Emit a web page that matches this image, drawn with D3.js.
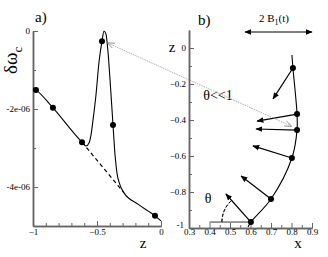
<!DOCTYPE html>
<html>
<head>
<meta charset="utf-8">
<script src="https://cdn.jsdelivr.net/npm/d3@7"></script>
<style>
body { margin: 0; background: #fff; }
text { font-family: "Liberation Serif", "Times New Roman", serif; fill: #000; }
.tick text { font-size: 9px; }
</style>
</head>
<body>
<script>
// panel a) : delta omega_c against z (values in units of 1e-6)
var aCurveZ  = [-1.0, -0.977, -0.844, -0.617, -0.586, -0.5625, -0.547, -0.531, -0.508, -0.484, -0.461, -0.445, -0.430, -0.414, -0.398, -0.375, -0.359, -0.344, -0.320, -0.289, -0.18, -0.047, 0.0];
var aCurveDw = [-1.46, -1.51, -1.97, -2.85, -2.95, -2.87, -2.67, -2.28, -1.64, -0.79, -0.26, 0, -0.08, -0.54, -1.26, -2.41, -3.18, -3.64, -3.95, -4.15, -4.44, -4.74, -4.87];
var aDotZ  = [-0.977, -0.844, -0.617, -0.461, -0.375, -0.047];
var aDotDw = [-1.51, -1.97, -2.85, -0.26, -2.41, -4.74];
var aDashZ  = [-0.617, -0.289];
var aDashDw = [-2.85, -4.15];
var aXTicks = [-1, -0.5, 0];
var aYTicks = [0, -2, -4];

// panel b) : filament shape z(x) with the B directions
var bCurveX = [0.802, 0.807, 0.827, 0.827, 0.802, 0.700, 0.602, 0.588];
var bCurveZ = [-0.039, -0.111, -0.367, -0.456, -0.611, -0.839, -0.967, -0.994];
var bDotX = [0.807, 0.827, 0.827, 0.802, 0.700, 0.602];
var bDotZ = [-0.111, -0.367, -0.456, -0.611, -0.839, -0.967];
var bTipX = [0.710, 0.632, 0.627, 0.612, 0.554, 0.480];
var bTipZ = [-0.283, -0.406, -0.450, -0.544, -0.711, -0.811];
var bXTicks = [0.3, 0.4, 0.5, 0.6, 0.7, 0.8, 0.9];
var bYTicks = [0, -0.2, -0.4, -0.6, -0.8, -1];

var width = 328, height = 257;

var svg = d3.select("body").append("svg")
    .attr("width", width)
    .attr("height", height);

svg.append("rect").attr("width", width).attr("height", height).attr("fill", "#fff");

var defs = svg.append("defs");
defs.append("marker")
    .attr("id", "head")
    .attr("viewBox", "0 0 10 10")
    .attr("refX", 9).attr("refY", 5)
    .attr("markerWidth", 7).attr("markerHeight", 7)
    .attr("markerUnits", "userSpaceOnUse")
    .attr("orient", "auto-start-reverse")
  .append("path")
    .attr("d", "M0,1 L10,5 L0,9 z")
    .attr("fill", "#000");
defs.append("marker")
    .attr("id", "openhead")
    .attr("viewBox", "0 0 10 10")
    .attr("refX", 9).attr("refY", 5)
    .attr("markerWidth", 7).attr("markerHeight", 7)
    .attr("markerUnits", "userSpaceOnUse")
    .attr("orient", "auto-start-reverse")
  .append("path")
    .attr("d", "M0,1 L10,5 L0,9")
    .attr("fill", "none")
    .attr("stroke", "#888")
    .attr("stroke-width", 1.2);

function styleAxis(g) {
    g.attr("font-family", null);
    g.select(".domain").attr("stroke", "#666").attr("stroke-width", 1.5);
    g.selectAll(".tick line").attr("stroke", "#666").attr("stroke-width", 1);
    g.selectAll(".tick text").attr("fill", "#000");
}

// ---------- panel a ----------
var xa = d3.scaleLinear().domain([-1, 0]).range([33, 161]);
var ya = d3.scaleLinear().domain([-5, 0]).range([226, 31]);

var ga = svg.append("g");

ga.append("g")
    .attr("transform", "translate(0,226)")
    .call(d3.axisBottom(xa).tickValues(d3.range(-0.9, -0.05, 0.1)).tickSize(-3).tickSizeOuter(0).tickFormat(""))
    .call(styleAxis);
ga.append("g")
    .attr("transform", "translate(0,226)")
    .call(d3.axisBottom(xa).tickValues(aXTicks).tickSize(-5).tickSizeOuter(0).tickPadding(3).tickFormat(d3.format("")))
    .call(styleAxis);
ga.append("g")
    .attr("transform", "translate(33,0)")
    .call(d3.axisLeft(ya).tickValues([-1, -3]).tickSize(-3).tickSizeOuter(0).tickFormat(""))
    .call(styleAxis);
ga.append("g")
    .attr("transform", "translate(33,0)")
    .call(d3.axisLeft(ya).tickValues(aYTicks).tickSize(-5).tickSizeOuter(0).tickPadding(3)
        .tickFormat(function(d){ return d === 0 ? "0" : d + "e-06"; }))
    .call(styleAxis);

var lineA = d3.line()
    .x(function(d){ return xa(d[0]); })
    .y(function(d){ return ya(d[1]); })
    .curve(d3.curveMonotoneX);

ga.append("path")
    .datum(d3.zip(aCurveZ, aCurveDw))
    .attr("d", lineA)
    .attr("fill", "none")
    .attr("stroke", "#000")
    .attr("stroke-width", 1.1);

ga.append("path")
    .datum(d3.zip(aDashZ, aDashDw))
    .attr("d", d3.line().x(function(d){ return xa(d[0]); }).y(function(d){ return ya(d[1]); }))
    .attr("fill", "none")
    .attr("stroke", "#000")
    .attr("stroke-width", 1.2)
    .attr("stroke-dasharray", "4,3");

ga.selectAll("circle")
    .data(d3.zip(aDotZ, aDotDw))
    .enter()
    .append("circle")
    .attr("cx", function(d){ return xa(d[0]); })
    .attr("cy", function(d){ return ya(d[1]); })
    .attr("r", 3);

ga.append("text").attr("x", 35).attr("y", 22).style("font-size", "15px").text("a)");
ga.append("text").attr("x", 143).attr("y", 248).attr("text-anchor", "middle").style("font-size", "15px").text("z");

var lab = ga.append("text")
    .attr("transform", "translate(17,74) rotate(-90)")
    .style("font-size", "19px");
lab.append("tspan").text("δω");
lab.append("tspan").attr("dy", 5).style("font-size", "13px").text("c");

// ---------- panel b ----------
var xb = d3.scaleLinear().domain([0.3, 0.9]).range([189, 312]);
var yb = d3.scaleLinear().domain([-1, 0.1]).range([228, 30]);

var gb = svg.append("g");

gb.append("g")
    .attr("transform", "translate(0,228)")
    .call(d3.axisBottom(xb).tickValues(d3.range(0.35, 0.9, 0.1)).tickSize(-3).tickSizeOuter(0).tickFormat(""))
    .call(styleAxis);
gb.append("g")
    .attr("transform", "translate(0,228)")
    .call(d3.axisBottom(xb).tickValues(bXTicks).tickSize(-5).tickSizeOuter(0).tickPadding(1).tickFormat(d3.format(".1f")))
    .call(styleAxis);
gb.append("g")
    .attr("transform", "translate(189,0)")
    .call(d3.axisLeft(yb).tickValues([-0.1, -0.3, -0.5, -0.7, -0.9]).tickSize(-3).tickSizeOuter(0).tickFormat(""))
    .call(styleAxis);
gb.append("g")
    .attr("transform", "translate(189,0)")
    .call(d3.axisLeft(yb).tickValues(bYTicks).tickSize(-5).tickSizeOuter(0).tickPadding(3)
        .tickFormat(function(d){ return d === 0 ? "0" : d === -1 ? "-1" : d3.format(".1f")(d); }))
    .call(styleAxis)
    .call(function(g){ g.selectAll(".tick text").filter(function(d){ return d === -1; }).attr("dy", "-0.05em").attr("x", -5); });

// horizontal reference for theta
gb.append("line")
    .attr("x1", xb(0.4)).attr("x2", xb(bDotX[5]))
    .attr("y1", yb(bDotZ[5])).attr("y2", yb(bDotZ[5]))
    .attr("stroke", "#000").attr("stroke-width", 0.8);

// dashed theta arc
var cx0 = xb(bDotX[5]), cy0 = yb(bDotZ[5]);
var ang = Math.atan2(yb(bTipZ[5]) - cy0, xb(bTipX[5]) - cx0);
var arc = d3.arc()
    .innerRadius(29).outerRadius(29)
    .startAngle(-Math.PI / 2)
    .endAngle(ang + Math.PI / 2);
gb.append("path")
    .attr("transform", "translate(" + cx0 + "," + cy0 + ")")
    .attr("d", arc())
    .attr("fill", "none")
    .attr("stroke", "#000")
    .attr("stroke-width", 0.9)
    .attr("stroke-dasharray", "3,2");

var lineB = d3.line()
    .x(function(d){ return xb(d[0]); })
    .y(function(d){ return yb(d[1]); })
    .curve(d3.curveCatmullRom.alpha(0.5));

gb.append("path")
    .datum(d3.zip(bCurveX, bCurveZ))
    .attr("d", lineB)
    .attr("fill", "none")
    .attr("stroke", "#000")
    .attr("stroke-width", 1.1);

gb.selectAll("line.vec")
    .data(d3.range(bDotX.length))
    .enter()
    .append("line")
    .attr("class", "vec")
    .attr("x1", function(i){ return xb(bDotX[i]); })
    .attr("y1", function(i){ return yb(bDotZ[i]); })
    .attr("x2", function(i){ return xb(bTipX[i]); })
    .attr("y2", function(i){ return yb(bTipZ[i]); })
    .attr("stroke", "#000")
    .attr("stroke-width", 1.2)
    .attr("marker-end", "url(#head)");

gb.selectAll("circle")
    .data(d3.zip(bDotX, bDotZ))
    .enter()
    .append("circle")
    .attr("cx", function(d){ return xb(d[0]); })
    .attr("cy", function(d){ return yb(d[1]); })
    .attr("r", 3);

gb.append("text").attr("x", 198).attr("y", 25).style("font-size", "15px").text("b)");
gb.append("text").attr("x", 172).attr("y", 52).attr("text-anchor", "middle").style("font-size", "15px").text("z");
gb.append("text").attr("x", 298).attr("y", 248).attr("text-anchor", "middle").style("font-size", "15px").text("x");
gb.append("text").attr("x", 208).attr("y", 203).attr("text-anchor", "middle").style("font-size", "14px").text("θ");
gb.append("text").attr("x", 218).attr("y", 100).attr("text-anchor", "middle").style("font-size", "14px").text("θ<<1");

var bl = gb.append("text").attr("x", 274).attr("y", 22).attr("text-anchor", "middle").style("font-size", "11px");
bl.append("tspan").text("2 B");
bl.append("tspan").attr("dy", 3).style("font-size", "8px").text("1");
bl.append("tspan").attr("dy", -3).text("(t)");

gb.append("line")
    .attr("x1", 245).attr("x2", 312)
    .attr("y1", 32).attr("y2", 32)
    .attr("stroke", "#000").attr("stroke-width", 1.2)
    .attr("marker-start", "url(#head)")
    .attr("marker-end", "url(#head)");

// gray connector between the peak of a) and the flat spot of b)
svg.append("line")
    .attr("x1", xa(aDotZ[3]) + 6).attr("y1", ya(aDotDw[3]) + 2)
    .attr("x2", xb(bDotX[2]) - 6).attr("y2", yb(bDotZ[2]) - 4)
    .attr("stroke", "#999").attr("stroke-width", 0.8)
    .attr("stroke-dasharray", "1.5,1")
    .attr("marker-start", "url(#openhead)")
    .attr("marker-end", "url(#openhead)");
</script>
</body>
</html>
